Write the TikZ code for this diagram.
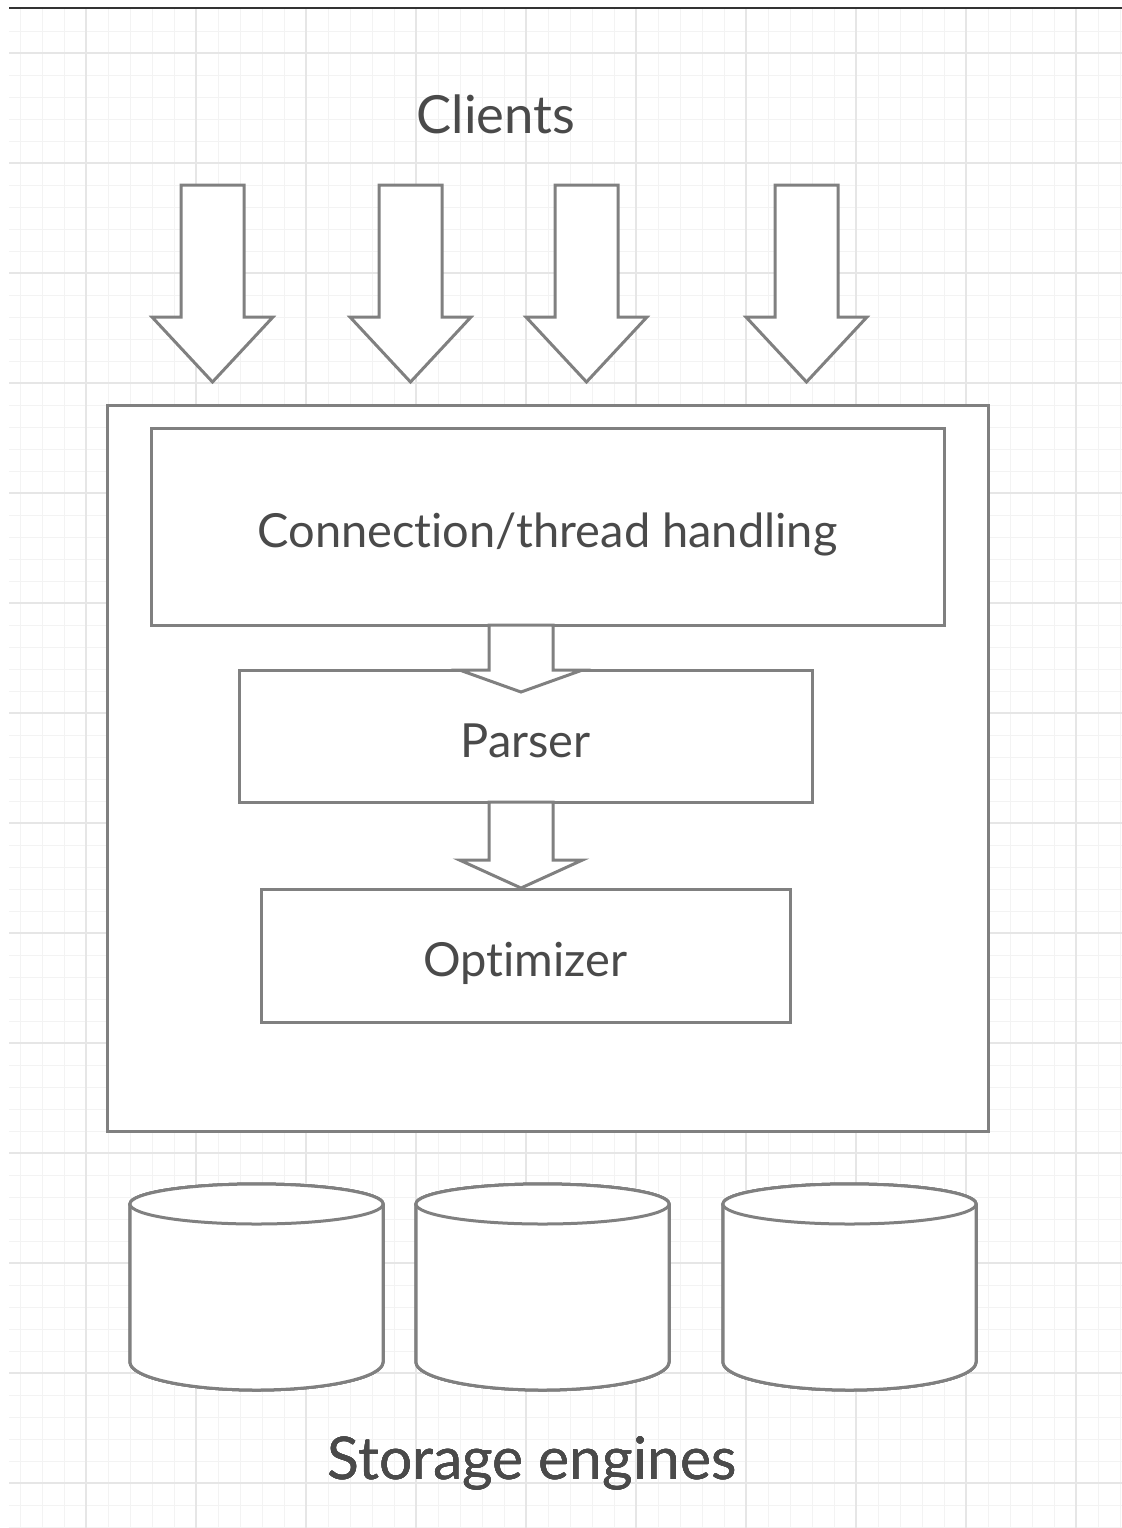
\documentclass[tikz,border=0pt]{standalone}
\usepackage{fontspec}
\setmainfont[Ligatures=NoCommon]{Lato}
\definecolor{shapegray}{HTML}{808080}
\definecolor{textgray}{HTML}{4A4A4A}
\definecolor{gridmajor}{HTML}{E6E6E6}
\definecolor{gridminor}{HTML}{F3F3F3}
\definecolor{topline}{HTML}{333333}
\tikzset{
  shapeline/.style={draw=shapegray,line width=1.5pt,fill=white,line join=miter},
  box/.style={shapeline,rectangle,inner sep=0pt,text=textgray,text height=21pt,text depth=0pt,
    font=\fontsize{23.5}{28}\selectfont},
  label/.style={text=textgray,inner sep=0pt}
}
% block arrow: centre x, top y, shoulder y, tip y, half shaft, half head
\newcommand{\blockarrow}[6]{%
  \draw[shapeline] ({#1-#5},#2) -- ({#1+#5},#2) -- ({#1+#5},#3) -- ({#1+#6},#3)
    -- (#1,#4) -- ({#1-#6},#3) -- ({#1-#5},#3) -- cycle;}
\begin{document}
\begin{tikzpicture}[x=0.5pt,y=-0.5pt]
\useasboundingbox (0,0) rectangle (1122,1528);
% grid paper
\foreach \x in {20,42,...,1120} \draw[gridminor,line width=0.5pt] (\x,9) -- (\x,1528);
\foreach \y in {31,53,...,1527} \draw[gridminor,line width=0.5pt] (9,\y) -- (1122,\y);
\foreach \x in {86,196,...,1076} \draw[gridmajor,line width=0.75pt] (\x,9) -- (\x,1528);
\foreach \y in {53,163,...,1483} \draw[gridmajor,line width=0.75pt] (9,\y) -- (1122,\y);
\draw[topline,line width=1pt] (9,8) -- (1122,8);
% server
\node (server) [shapeline,rectangle,minimum width=440.5pt,minimum height=363pt] at (547.5,768) {};
\node (conn) [box,minimum width=396.5pt,minimum height=98.5pt] at (547.5,526.5) {Connection/thread handling};
\node (parser) [box,minimum width=286.5pt,minimum height=66pt] at (525.5,736) {Parser};
\node (optim) [box,minimum width=264.5pt,minimum height=66.5pt] at (525.5,955.5) {Optimizer};
\blockarrow{521}{625}{670}{692}{32}{61.5}
\blockarrow{521}{802}{860}{888}{32}{61.5}
% clients
\node (clients) [label,font=\fontsize{26.3}{31}\selectfont] at (496,114) {Clients};
\foreach \x in {212.5,410.5,586.5,806.5}
  \blockarrow{\x}{185}{317}{382}{31.5}{60.5}
% storage engines
\foreach \x in {130,416,723}{
  \draw[shapeline] (\x,1204) -- (\x,1362) arc[start angle=180,end angle=0,x radius=126.5,y radius=28]
    -- ({\x+253},1204);
  \draw[shapeline] ({\x+126.5},1204) ellipse[x radius=126.5,y radius=20];
}
\node (storage) [label,font=\fontsize{29.4}{35}\selectfont] at (532,1463) {Storage engines};
\end{tikzpicture}
\end{document}
